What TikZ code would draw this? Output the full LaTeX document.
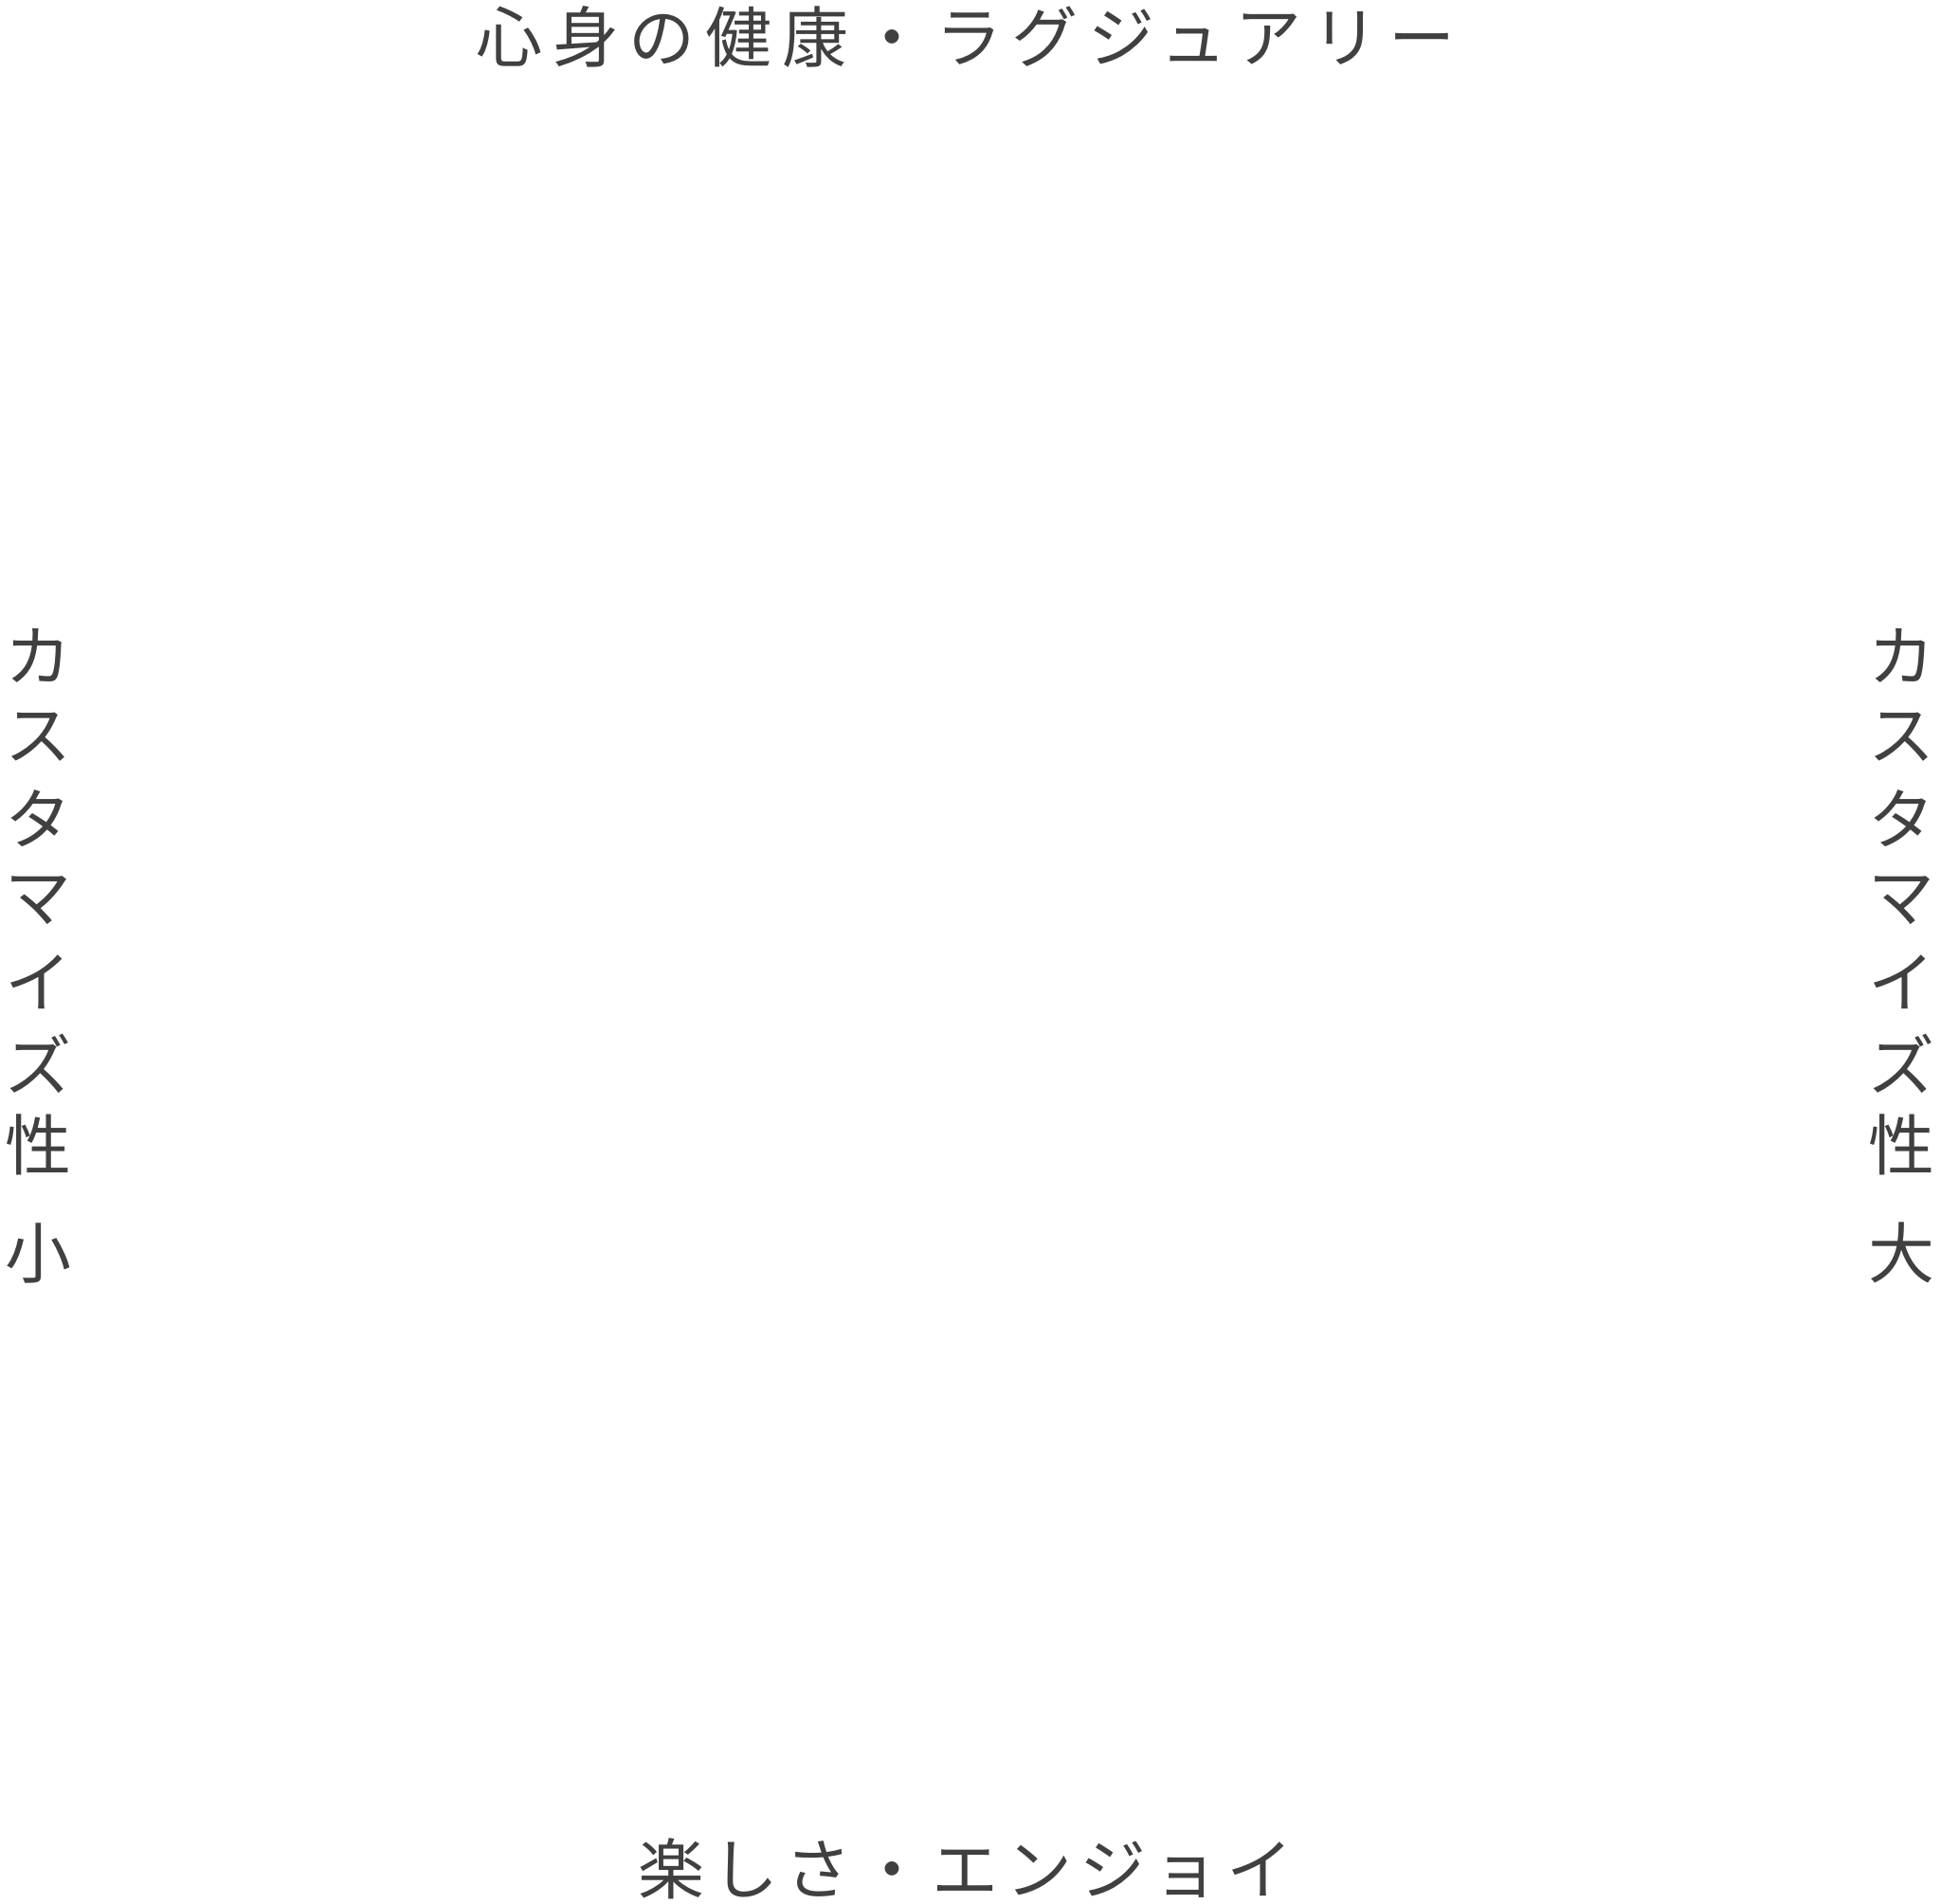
\documentclass[tikz,border=0pt]{standalone}
\usepackage{fontspec}
\usepackage{xcolor}
\usepackage{tikz}
\newfontfamily\jpfont{Noto Sans CJK JP}
\newfontfamily\jptop[LetterSpace=15.5]{Noto Sans CJK JP}
\newfontfamily\jpbottom[LetterSpace=11]{Noto Sans CJK JP}
\definecolor{axisgray}{RGB}{64,64,64}

\begin{document}
\begin{tikzpicture}[
  axislabel/.style={inner sep=0pt, text=axisgray},
  axischar/.style={inner sep=0pt, text=axisgray, font=\jpfont\fontsize{19.9pt}{24pt}\selectfont}
]
\useasboundingbox (0,0) rectangle (20.48,20.09);
% top / bottom
\node[axislabel, font=\jptop\fontsize{19.9pt}{24pt}\selectfont] (top) at (10.19,19.70) {心身の健康・ラグジュアリー};
\node[axislabel, font=\jpbottom\fontsize{19.9pt}{24pt}\selectfont] (bottom) at (10.19,0.37) {楽しさ・エンジョイ};
% left column
\foreach \ch [count=\i] in {カ,ス,タ,マ,イ,ズ,性}
  \node[axischar] (left\i) at (0.40,{14.03-0.86*\i}) {\ch};
\node[axischar] (leftend) at (0.40,6.87) {小};
% right column
\foreach \ch [count=\i] in {カ,ス,タ,マ,イ,ズ,性}
  \node[axischar] (right\i) at (20.06,{14.03-0.86*\i}) {\ch};
\node[axischar] (rightend) at (20.06,6.87) {大};
\end{tikzpicture}
\end{document}
